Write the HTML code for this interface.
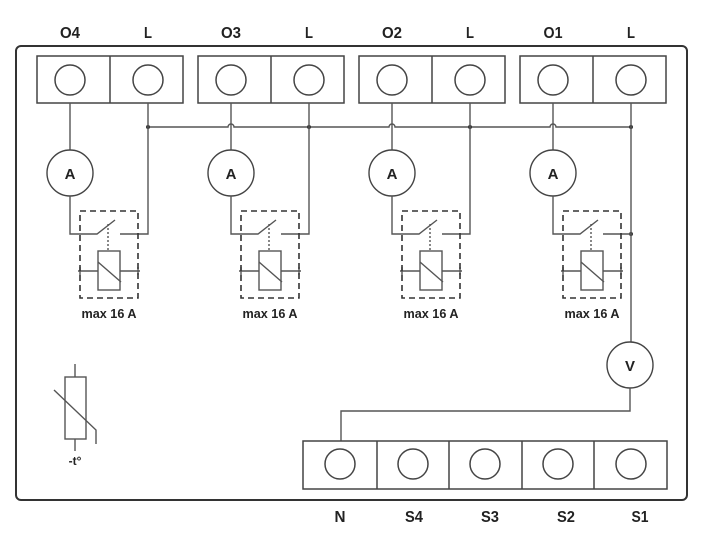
<!DOCTYPE html>
<html><head><meta charset="utf-8"><style>
html,body{margin:0;padding:0;background:#fff;}
svg{display:block;}
text{font-family:"Liberation Sans Narrow","Liberation Sans",sans-serif;fill:#222;font-weight:bold;}
</style></head><body>
<svg width="711" height="534" viewBox="0 0 711 534" xmlns="http://www.w3.org/2000/svg">
<rect x="16" y="46" width="671" height="454" rx="5" ry="5" fill="none" stroke="#333" stroke-width="2"/>

<!-- top labels -->
<g font-size="16" text-anchor="middle">
<text x="70" y="38" textLength="20" lengthAdjust="spacingAndGlyphs">O4</text><text x="148" y="38" textLength="8" lengthAdjust="spacingAndGlyphs">L</text>
<text x="231" y="38" textLength="20" lengthAdjust="spacingAndGlyphs">O3</text><text x="309" y="38" textLength="8" lengthAdjust="spacingAndGlyphs">L</text>
<text x="392" y="38" textLength="20" lengthAdjust="spacingAndGlyphs">O2</text><text x="470" y="38" textLength="8" lengthAdjust="spacingAndGlyphs">L</text>
<text x="553" y="38" textLength="19" lengthAdjust="spacingAndGlyphs">O1</text><text x="631" y="38" textLength="8" lengthAdjust="spacingAndGlyphs">L</text>
</g>

<g fill="none" stroke="#444" stroke-width="1.5">
<!-- top terminal blocks -->
<rect x="37" y="56" width="146" height="47"/><line x1="110" y1="56" x2="110" y2="103"/>
<rect x="198" y="56" width="146" height="47"/><line x1="271" y1="56" x2="271" y2="103"/>
<rect x="359" y="56" width="146" height="47"/><line x1="432" y1="56" x2="432" y2="103"/>
<rect x="520" y="56" width="146" height="47"/><line x1="593" y1="56" x2="593" y2="103"/>
<circle cx="70" cy="80" r="15"/><circle cx="148" cy="80" r="15"/>
<circle cx="231" cy="80" r="15"/><circle cx="309" cy="80" r="15"/>
<circle cx="392" cy="80" r="15"/><circle cx="470" cy="80" r="15"/>
<circle cx="553" cy="80" r="15"/><circle cx="631" cy="80" r="15"/>
</g>

<g fill="none" stroke="#555" stroke-width="1.4">
<!-- bus with hops -->
<path d="M148 127 H228 A3 3 0 0 1 234 127 H389 A3 3 0 0 1 395 127 H550 A3 3 0 0 1 556 127 H631"/>
</g>
<g fill="#333">
<circle cx="148" cy="127" r="2"/><circle cx="309" cy="127" r="2"/>
<circle cx="470" cy="127" r="2"/><circle cx="631" cy="127" r="2"/>
<circle cx="631" cy="234" r="2"/>
</g>

<!-- groups -->
<g id="g1">
<g fill="none" stroke="#555" stroke-width="1.4">
<line x1="70" y1="103" x2="70" y2="150"/>
<circle cx="70" cy="173" r="23" stroke="#444"/>
<polyline points="70,196 70,234 97,234 115,220"/>
<polyline points="120,234 148,234 148,103"/>
<line x1="108" y1="224" x2="108" y2="251" stroke-dasharray="2,2"/>
<rect x="98" y="251" width="22" height="39"/>
<line x1="98" y1="262" x2="121" y2="282"/>
<line x1="78" y1="271" x2="98" y2="271"/><line x1="120" y1="271" x2="140" y2="271"/>
<line x1="80" y1="267" x2="80" y2="275"/><line x1="138" y1="267" x2="138" y2="275"/>
<rect x="80" y="211" width="58" height="87" stroke="#333" stroke-width="1.6" stroke-dasharray="6,4"/>
</g>
<text x="70" y="179" font-size="15" text-anchor="middle">A</text>
<text x="109" y="318" font-size="13" text-anchor="middle" textLength="55" lengthAdjust="spacingAndGlyphs">max 16 A</text>
</g>
<use href="#g1" x="161"/>
<use href="#g1" x="322"/>
<use href="#g1" x="483"/>

<!-- V meter and N wire -->
<g fill="none" stroke="#555" stroke-width="1.4">
<line x1="631" y1="234" x2="631" y2="342"/>
<circle cx="630" cy="365" r="23" stroke="#444"/>
<polyline points="630,388 630,411 341,411 341,441"/>
</g>
<text x="630" y="371" font-size="15" text-anchor="middle">V</text>

<!-- bottom terminal block -->
<g fill="none" stroke="#444" stroke-width="1.5">
<rect x="303" y="441" width="364" height="48"/>
<line x1="377" y1="441" x2="377" y2="489"/>
<line x1="449" y1="441" x2="449" y2="489"/>
<line x1="522" y1="441" x2="522" y2="489"/>
<line x1="594" y1="441" x2="594" y2="489"/>
<circle cx="340" cy="464" r="15"/><circle cx="413" cy="464" r="15"/>
<circle cx="485" cy="464" r="15"/><circle cx="558" cy="464" r="15"/>
<circle cx="631" cy="464" r="15"/>
</g>
<g font-size="16" text-anchor="middle">
<text x="340" y="522" textLength="11" lengthAdjust="spacingAndGlyphs">N</text>
<text x="414" y="522" textLength="18" lengthAdjust="spacingAndGlyphs">S4</text>
<text x="490" y="522" textLength="18" lengthAdjust="spacingAndGlyphs">S3</text>
<text x="566" y="522" textLength="18" lengthAdjust="spacingAndGlyphs">S2</text>
<text x="640" y="522" textLength="17" lengthAdjust="spacingAndGlyphs">S1</text>
</g>

<!-- thermistor -->
<g fill="none" stroke="#555" stroke-width="1.4">
<line x1="75" y1="364" x2="75" y2="377"/>
<rect x="65" y="377" width="21" height="62"/>
<line x1="75" y1="439" x2="75" y2="451"/>
<polyline points="54,390 96,430 96,444"/>
</g>
<text x="75" y="465" font-size="12" text-anchor="middle" font-weight="normal">-t°</text>
</svg>
</body></html>
